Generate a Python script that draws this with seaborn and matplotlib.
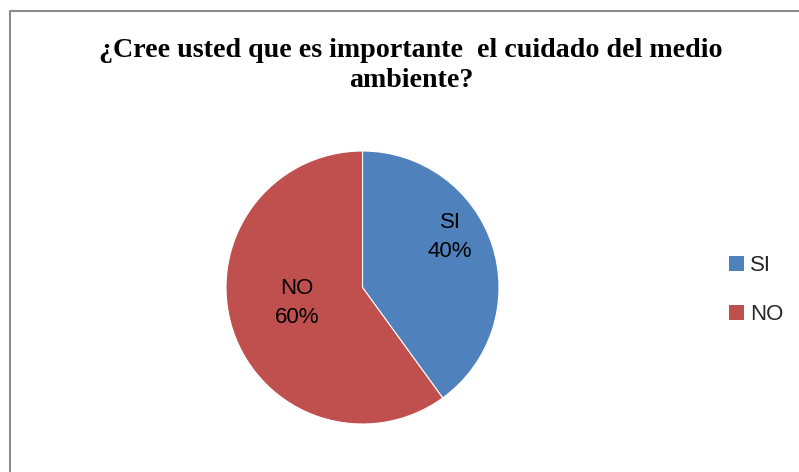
import matplotlib.pyplot as plt
import matplotlib.patches as mpatches
from matplotlib.lines import Line2D
import seaborn as sns

categories = ['SI', 'NO']
values = [40, 60]
colors = ['#4F81BD', '#C0504D']
title_lines = ['¿Cree usted que es importante  el cuidado del medio', 'ambiente?']

sns.set_theme(style='white')
plt.rcParams['font.family'] = ['Liberation Sans', 'DejaVu Sans']

W, H = 799, 472
fig = plt.figure(figsize=(W / 100, H / 100), dpi=100)
fig.patch.set_facecolor('white')

# pie area (pixel based layout)
cx, cy, r = 362.5, 472 - 287.5, 136.5
ax = fig.add_axes([(cx - r) / W, (cy - r) / H, 2 * r / W, 2 * r / H])
wedges, _ = ax.pie(values, colors=colors, startangle=90, counterclock=False,
                   radius=1, wedgeprops=dict(edgecolor='white', linewidth=0.8))
ax.set_xlim(-1, 1)
ax.set_ylim(-1, 1)
ax.set_aspect('equal')
ax.axis('off')

label_pos = [(0.642, 0.37), (-0.48, -0.117)]
for cat, val, (lx, ly) in zip(categories, values, label_pos):
    ax.text(lx, ly, f'{cat}\n{val}%', ha='center', va='center', fontsize=16,
            color='black', linespacing=1.5)

for i, line in enumerate(title_lines):
    fig.text(411 / W, 1 - (57 + 30 * i) / H, line, ha='center', va='baseline',
             fontsize=20.2, fontweight='bold', family=['Liberation Serif'],
             color='black')

handles = [mpatches.Patch(facecolor=c, edgecolor='none') for c in colors]
leg = fig.legend(handles, categories, loc='center left',
                 bbox_to_anchor=(718 / W, 1 - 290 / H), frameon=False,
                 fontsize=16, handlelength=0.65, handleheight=0.65,
                 handletextpad=0.3, labelspacing=1.25, borderpad=0)

# chart border (only top and left visible in the crop)
fig.add_artist(Line2D([9.5 / W, 9.5 / W, 1], [0, 1 - 10.5 / H, 1 - 10.5 / H],
                      color='#8c8c8c', linewidth=1.5, transform=fig.transFigure))

fig.savefig('out.png', dpi=100)
